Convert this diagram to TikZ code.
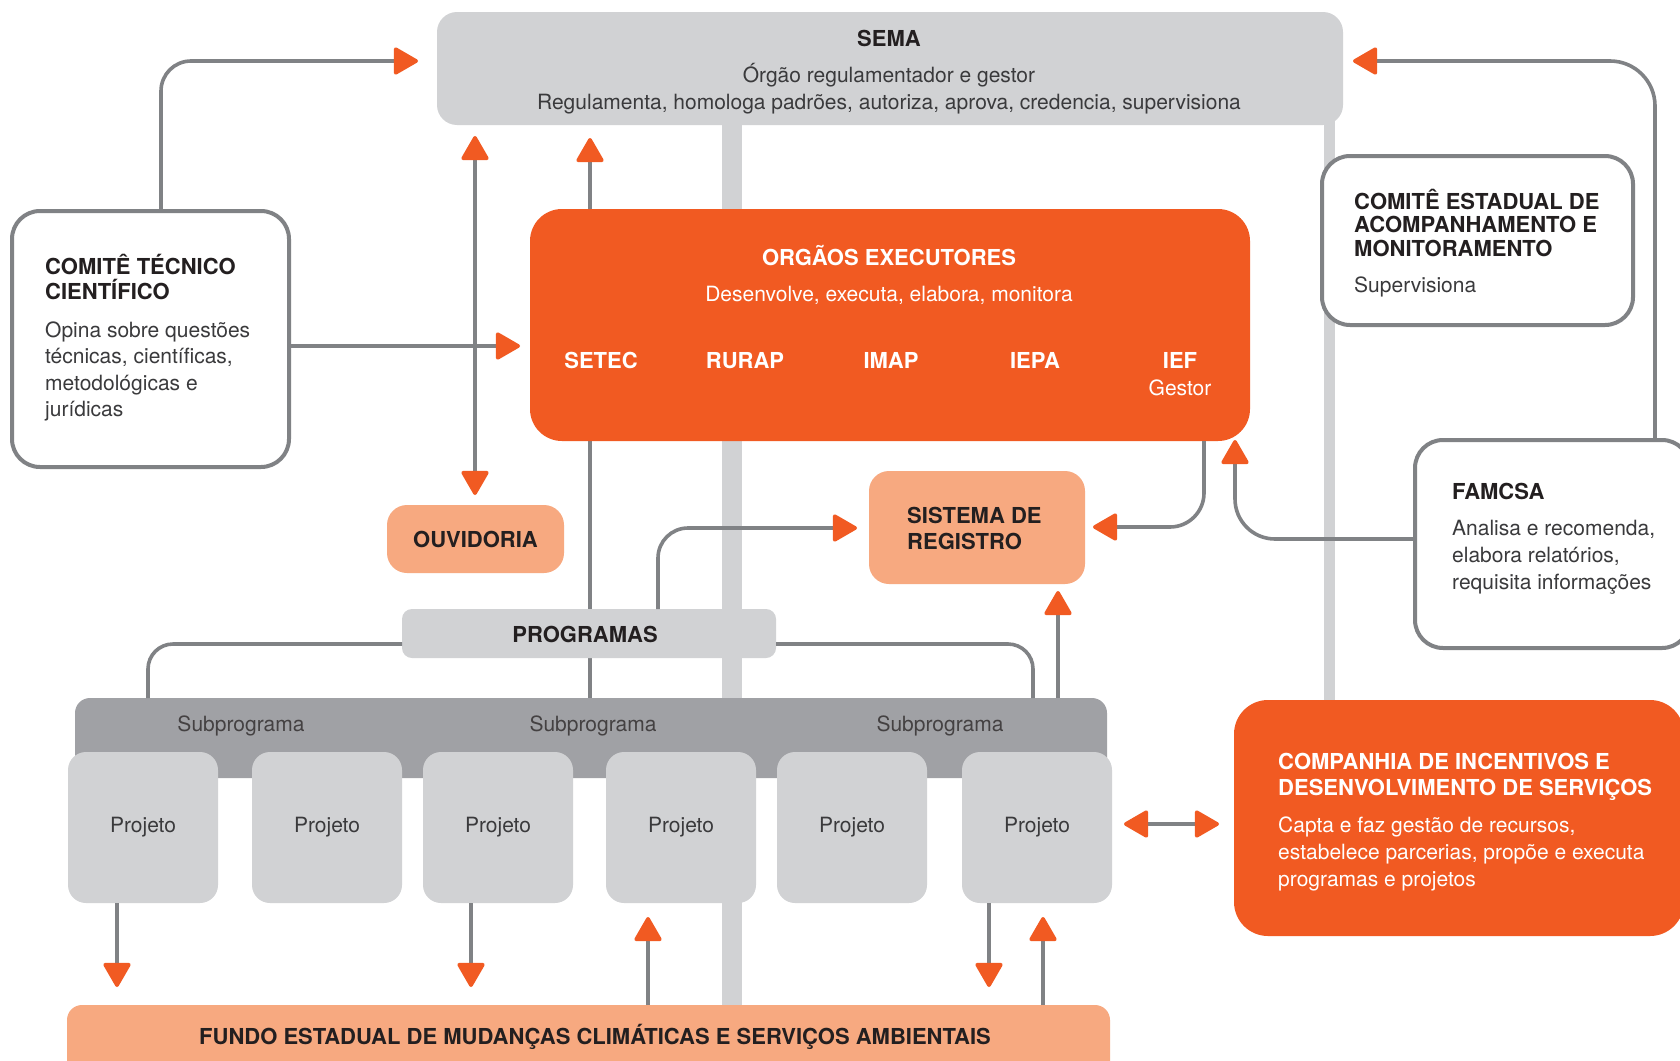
\documentclass[tikz,border=0pt]{standalone}
\usepackage{fontspec}
\setmainfont{TeX Gyre Heros}
\usetikzlibrary{arrows.meta,calc}

\definecolor{orng}{HTML}{F15A22}
\definecolor{lorng}{HTML}{F7A980}
\definecolor{lgray}{HTML}{D1D2D4}
\definecolor{dgray}{HTML}{A0A1A5}
\definecolor{lngray}{HTML}{808285}
\definecolor{ink}{HTML}{231F20}
\definecolor{txt}{HTML}{3A3A3C}

\tikzset{
  otip/.tip={Triangle[length=26pt,width=29pt,round,color=orng,fill=orng]},
  conn/.style={draw=lngray, line width=3.6pt},
  ar/.style={conn, -otip},
  ar2/.style={conn, otip-otip},
  panel/.style={anchor=north west, inner sep=0pt, outer sep=0pt, draw=none},
  card/.style={panel, fill=white, draw=lngray, line width=4pt, rounded corners=28pt},
  hd/.style={font=\fontsize{22}{25}\selectfont\bfseries, text=ink, inner sep=0pt},
  bd/.style={font=\fontsize{21}{26}\selectfont, text=txt, inner sep=0pt},
  hdw/.style={hd, text=white},
  bdw/.style={bd, text=white},
  tile/.style={panel, fill=lgray, rounded corners=18pt, minimum width=150pt,
    minimum height=151pt, font=\fontsize{21}{26}\selectfont, text=txt},
}

\begin{document}
\begin{tikzpicture}[x=1pt,y=-1pt]
\useasboundingbox (0,0) rectangle (1680,1060);
\clip (0,0) rectangle (1680,1060);
\fill[white] (0,0) rectangle (1680,1060);

% fixed positions of vertical and horizontal runs
\coordinate (b1) at (732,0);
\coordinate (b2) at (1329,0);
\coordinate (k1) at (161,61);
\coordinate (k2) at (0,346);
\coordinate (k3) at (475,0);
\coordinate (k4) at (590,0);
\coordinate (k5) at (658,528);
\coordinate (k6) at (1204,527);
\coordinate (k7) at (1235,539);
\coordinate (k8) at (1655,61);
\coordinate (k9) at (1058,0);
\coordinate (k10) at (148,644);
\coordinate (k11) at (1033,644);
\coordinate (k12) at (117,0);
\coordinate (k13) at (471,0);
\coordinate (k14) at (648,0);
\coordinate (k15) at (989,0);
\coordinate (k16) at (1043,0);
\coordinate (k17) at (0,824);

% back layer: structural bars and the hidden link through the boxes
\path (437,12) node[panel, minimum width=906pt, minimum height=113pt] (sema0) {};
\path (67,1005) node[panel, minimum width=1043pt, minimum height=80pt] (fundo0) {};
\path (1234,700) node[panel, minimum width=450pt, minimum height=236pt] (comp0) {};
\path (75,698) node[panel, minimum width=1032pt, minimum height=80pt] (subp0) {};
\draw[lgray, line width=20pt] (sema0.center -| b1) -- (fundo0.center -| b1);
\draw[lgray, line width=11pt] (sema0.center -| b2) -- (comp0.center -| b2);
\draw[ar, shorten >=13pt] (subp0.north -| k4) -- (sema0.south -| k4);

% SEMA
\node[panel, fill=lgray, rounded corners=20pt, minimum width=906pt, minimum height=113pt] (sema) at (437,12) {};
\node[hd, anchor=base] (semaT) at (889,46) {SEMA};
\node[bd, anchor=base] (semaL1) at (889,82) {Órgão regulamentador e gestor};
\node[bd, anchor=base] (semaL2) at (889,109) {Regulamenta, homologa padrões, autoriza, aprova, credencia, supervisiona};

% Comitê Técnico Científico
\node[card, minimum width=277pt, minimum height=256pt] (ctc) at (12,211) {};
\node[hd, anchor=base west] (ctcH1) at (45,274) {COMITÊ TÉCNICO};
\node[hd, anchor=base west] (ctcH2) at (45,299) {CIENTÍFICO};
\node[bd, anchor=base west] (ctcL1) at (45,337) {Opina sobre questões};
\node[bd, anchor=base west] (ctcL2) at (45,363.5) {técnicas, científicas,};
\node[bd, anchor=base west] (ctcL3) at (45,390) {metodológicas e};
\node[bd, anchor=base west] (ctcL4) at (45,416.5) {jurídicas};

% Órgãos executores
\node[panel, fill=orng, rounded corners=32pt, minimum width=720pt, minimum height=232pt] (orgaos) at (530,209) {};
\node[hdw, anchor=base] (orgT) at (889,265) {ORGÃOS EXECUTORES};
\node[bdw, anchor=base] (orgL) at (889,301) {Desenvolve, executa, elabora, monitora};
\node[hdw, anchor=base] (setec) at (601,368) {SETEC};
\node[hdw, anchor=base] (rurap) at (745,368) {RURAP};
\node[hdw, anchor=base] (imap) at (891,368) {IMAP};
\node[hdw, anchor=base] (iepa) at (1035,368) {IEPA};
\node[hdw, anchor=base] (ief) at (1180,368) {IEF};
\node[bdw, anchor=base] (iefG) at (1180,395) {Gestor};

% Comitê Estadual
\node[card, minimum width=311pt, minimum height=169pt] (ceam) at (1322,156) {};
\node[hd, anchor=base west] (ceamH1) at (1354,209) {COMITÊ ESTADUAL DE};
\node[hd, anchor=base west] (ceamH2) at (1354,232.5) {ACOMPANHAMENTO E};
\node[hd, anchor=base west] (ceamH3) at (1354,256) {MONITORAMENTO};
\node[bd, anchor=base west] (ceamL) at (1354,292) {Supervisiona};

% FAMCSA
\node[card, minimum width=275pt, minimum height=208pt] (famcsa) at (1415,440) {};
\node[hd, anchor=base west] (famH) at (1452,499) {FAMCSA};
\node[bd, anchor=base west] (famL1) at (1452,535) {Analisa e recomenda,};
\node[bd, anchor=base west] (famL2) at (1452,562) {elabora relatórios,};
\node[bd, anchor=base west] (famL3) at (1452,589) {requisita informações};

% Ouvidoria
\node[panel, fill=lorng, rounded corners=20pt, minimum width=177pt, minimum height=68pt,
  font=\fontsize{22}{25}\selectfont\bfseries, text=ink] (ouvid) at (387,505) {OUVIDORIA};

% Sistema de registro
\node[panel, fill=lorng, rounded corners=20pt, minimum width=216pt, minimum height=113pt] (sist) at (869,471) {};
\node[hd, anchor=base west] (sistH1) at (907,523) {SISTEMA DE};
\node[hd, anchor=base west] (sistH2) at (907,549) {REGISTRO};

% Programas
\node[panel, fill=lgray, rounded corners=10pt, minimum width=374pt, minimum height=49pt] (prog) at (402,609) {};
\node[hd, anchor=base] (progT) at (585,642) {PROGRAMAS};

% Subprogramas and projects
\node[panel, fill=dgray, rounded corners=15pt, minimum width=1032pt, minimum height=80pt] (subp) at (75,698) {};
\node[bd, anchor=base, text=ink!85] (sub1) at (241,731) {Subprograma};
\node[bd, anchor=base, text=ink!85] (sub2) at (593,731) {Subprograma};
\node[bd, anchor=base, text=ink!85] (sub3) at (940,731) {Subprograma};
\node[tile] (pj1) at (68,752) {Projeto};
\node[tile] (pj2) at (252,752) {Projeto};
\node[tile] (pj3) at (423,752) {Projeto};
\node[tile] (pj4) at (606,752) {Projeto};
\node[tile] (pj5) at (777,752) {Projeto};
\node[tile] (pj6) at (962,752) {Projeto};

% Fundo
\node[panel, fill=lorng, rounded corners=15pt, minimum width=1043pt, minimum height=80pt] (fundo) at (67,1005) {};
\node[hd, anchor=base] (fundoT) at (595,1044) {FUNDO ESTADUAL DE MUDANÇAS CLIMÁTICAS E SERVIÇOS AMBIENTAIS};

% Companhia
\node[panel, fill=orng, rounded corners=34pt, minimum width=450pt, minimum height=236pt] (comp) at (1234,700) {};
\node[hdw, anchor=base west] (compH1) at (1278,769) {COMPANHIA DE INCENTIVOS E};
\node[hdw, anchor=base west] (compH2) at (1278,795) {DESENVOLVIMENTO DE SERVIÇOS};
\node[bdw, anchor=base west] (compL1) at (1278,832) {Capta e faz gestão de recursos,};
\node[bdw, anchor=base west] (compL2) at (1278,859) {estabelece parcerias, propõe e executa};
\node[bdw, anchor=base west] (compL3) at (1278,886) {programas e projetos};

% ---------- connectors ----------
\draw[ar, rounded corners=30pt, shorten >=19pt] (ctc.north -| k1) |- (sema.west |- k1);
\draw[ar, shorten >=10pt] (ctc.east |- k2) -- (orgaos.west |- k2);
\draw[ar2, shorten <=11pt, shorten >=10pt] (sema.south -| k3) -- (ouvid.north -| k3);
\draw[ar, rounded corners=30pt, shorten >=12pt] (prog.north -| k5) |- (sist.west |- k5);
\draw[ar, rounded corners=34pt, shorten >=8pt] (orgaos.south -| k6) |- (sist.east |- k6);
\draw[ar, rounded corners=40pt, shorten >=-1pt] (famcsa.west |- k7) -| (orgaos.south -| k7);
\draw[ar, rounded corners=45pt, shorten >=10pt] (famcsa.north -| k8) |- (sema.east |- k8);
\draw[ar, shorten >=7pt] (subp.north -| k9) -- (sist.south -| k9);
\draw[conn, rounded corners=25pt] (prog.west |- k10) -| (subp.north -| k10);
\draw[conn, rounded corners=25pt] (prog.east |- k11) -| (subp.north -| k11);
\draw[ar, shorten >=18pt] (pj1.south -| k12) -- (fundo.north -| k12);
\draw[ar, shorten >=18pt] (pj3.south -| k13) -- (fundo.north -| k13);
\draw[ar, shorten >=14pt] (fundo.north -| k14) -- (pj4.south -| k14);
\draw[ar, shorten >=18pt] (pj6.south -| k15) -- (fundo.north -| k15);
\draw[ar, shorten >=14pt] (fundo.north -| k16) -- (pj6.south -| k16);
\draw[ar2, shorten <=12pt, shorten >=15pt] (pj6.east |- k17) -- (comp.west |- k17);
\end{tikzpicture}
\end{document}
